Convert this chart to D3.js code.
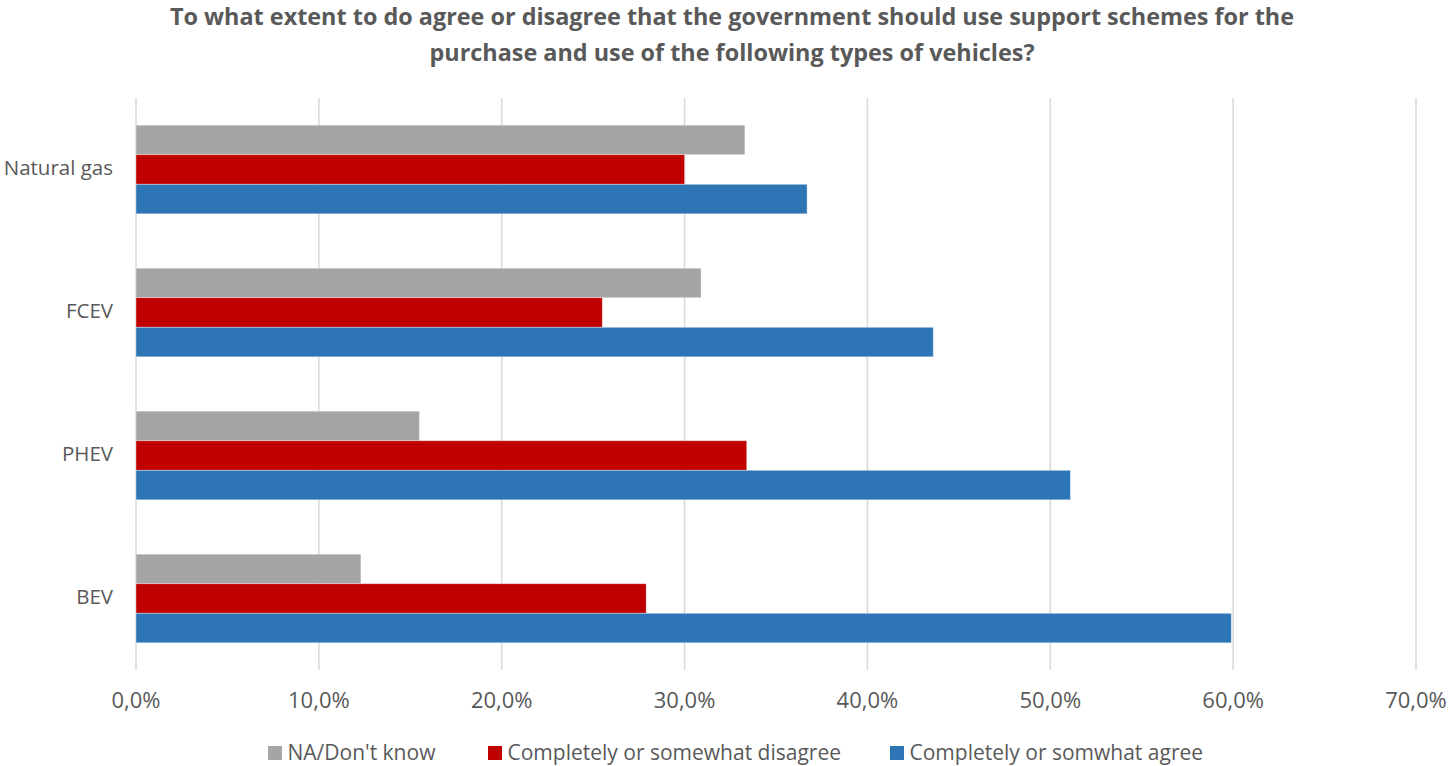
<!DOCTYPE html>
<html>
<head>
<meta charset="utf-8">
<script src="https://cdn.jsdelivr.net/npm/d3@7"></script>
<style>
  html, body { margin: 0; padding: 0; background: #fff; }
  svg { display: block; }
</style>
</head>
<body>
<svg id="chart" width="1450" height="766"></svg>
<script>
// Vehicle types, top to bottom
const categories = ["Natural gas", "FCEV", "PHEV", "BEV"];
// Series shown within each group, top to bottom
const seriesNames = ["NA/Don't know", "Completely or somewhat disagree", "Completely or somwhat agree"];
const seriesColors = ["#A5A5A5", "#C00000", "#2E75B6"];
// Shares (%) per series, in category order
const naValues       = [33.3, 30.9, 15.5, 12.3];
const disagreeValues = [30.0, 25.5, 33.4, 27.9];
const agreeValues    = [36.7, 43.6, 51.1, 59.9];
const tickValues = [0, 10, 20, 30, 40, 50, 60, 70];
const titleLines = [
  "To what extent to do agree or disagree that the government should use support schemes for the",
  "purchase and use of the following types of vehicles?"
];

const seriesValues = [naValues, disagreeValues, agreeValues];
const font = "'Open Sans', 'Liberation Sans', sans-serif";
const textColor = "#595959";

const svg = d3.select("#chart");
const margin = { left: 136, right: 34, top: 98, bottom: 96 };
const W = 1450, H = 766;

const x = d3.scaleLinear().domain([0, 70]).range([margin.left, W - margin.right]);
const y0 = d3.scaleBand().domain(categories).range([margin.top, H - margin.bottom]).paddingInner(0.38).paddingOuter(0.19);
const y1 = d3.scaleBand().domain(d3.range(seriesNames.length)).range([0, y0.bandwidth()]);

// Gridlines
svg.append("g")
  .selectAll("line")
  .data(tickValues)
  .join("line")
  .attr("x1", d => x(d)).attr("x2", d => x(d))
  .attr("y1", margin.top).attr("y2", H - margin.bottom)
  .attr("stroke", "#D9D9D9").attr("stroke-width", 1.5);

// Bars
const groups = svg.append("g")
  .selectAll("g")
  .data(categories)
  .join("g")
  .attr("transform", d => `translate(0,${y0(d)})`);

groups.selectAll("rect")
  .data((c, ci) => seriesValues.map((vals, si) => ({ si, v: vals[ci] })))
  .join("rect")
  .attr("x", x(0))
  .attr("y", d => y1(d.si))
  .attr("width", d => x(d.v) - x(0))
  .attr("height", y1.bandwidth())
  .attr("fill", d => seriesColors[d.si])
  .attr("stroke", "#fff").attr("stroke-opacity", 0.5).attr("stroke-width", 0.75);

// Category labels
svg.append("g")
  .selectAll("text")
  .data(categories)
  .join("text")
  .attr("x", 113)
  .attr("y", d => y0(d) + y0.bandwidth() / 2)
  .attr("text-anchor", "end")
  .attr("dominant-baseline", "middle")
  .attr("font-family", font).attr("font-size", 20.5).attr("fill", textColor)
  .text(d => d);

// X axis tick labels
const fmt = d => d.toFixed(1).replace(".", ",") + "%";
svg.append("g")
  .selectAll("text")
  .data(tickValues)
  .join("text")
  .attr("x", d => x(d))
  .attr("y", 708)
  .attr("text-anchor", "middle")
  .attr("font-family", font).attr("font-size", 22).attr("fill", textColor)
  .text(fmt);

// Title
svg.append("g")
  .selectAll("text")
  .data(titleLines)
  .join("text")
  .attr("x", 732)
  .attr("y", (d, i) => 25 + i * 36)
  .attr("text-anchor", "middle")
  .attr("font-family", font).attr("font-weight", "bold").attr("font-size", 23.4).attr("fill", textColor)
  .text(d => d);

// Legend
const legendX = [268, 488, 890];
const legend = svg.append("g")
  .selectAll("g")
  .data(seriesNames)
  .join("g")
  .attr("transform", (d, i) => `translate(${legendX[i]},746)`);
legend.append("rect")
  .attr("width", 14).attr("height", 14)
  .attr("fill", (d, i) => seriesColors[i]);
legend.append("text")
  .attr("x", 19.5).attr("y", 14)
  .attr("font-family", font).attr("font-size", 21).attr("fill", textColor)
  .text(d => d);
</script>
</body>
</html>
